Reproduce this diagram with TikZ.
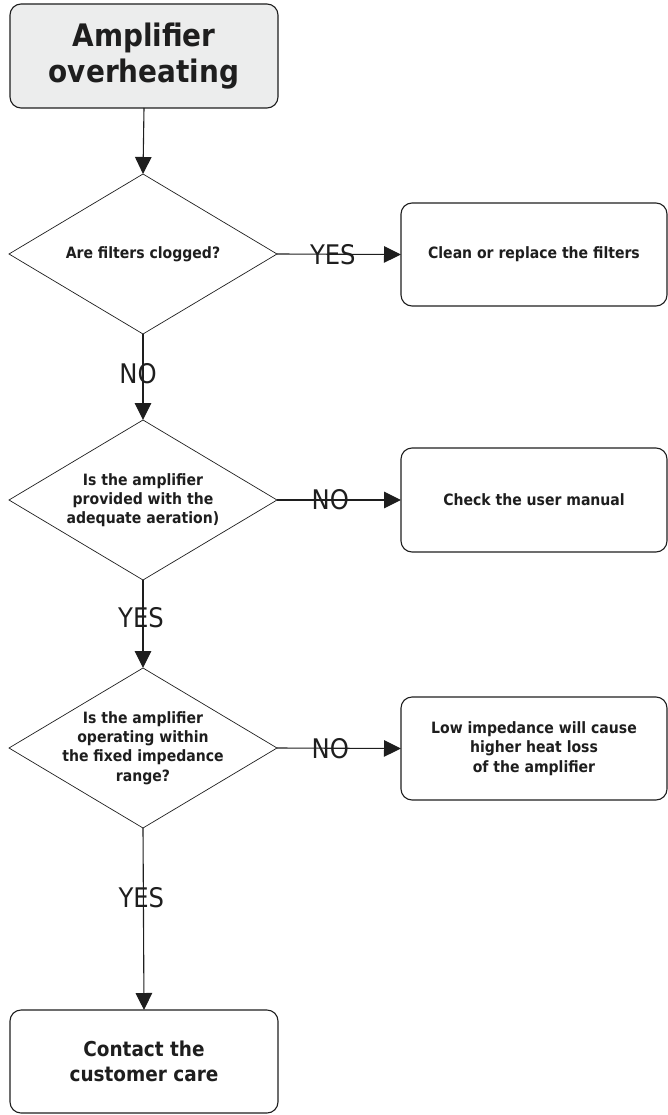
\documentclass[tikz,border=0pt]{standalone}
\usepackage{fontspec}
\setmainfont{DejaVu Sans Condensed}
\usetikzlibrary{shapes.geometric,arrows.meta}
\definecolor{titlefill}{RGB}{236,237,237}
\definecolor{ink}{RGB}{30,30,30}
\begin{document}
\begin{tikzpicture}[x=1pt,y=-1pt,
  box/.style={draw=ink, line width=1.1pt, rounded corners=11pt, minimum width=266pt, minimum height=103pt, inner sep=0pt, outer sep=0pt, align=center, text=ink},
  dec/.style={draw=ink, line width=0.7pt, diamond, minimum width=268pt, minimum height=160pt, inner sep=0pt, outer sep=0pt},
  dtext/.style={align=center, font=\bfseries\fontsize{15.6}{19.2}\selectfont, inner sep=0pt, text=ink},
  btext/.style={font=\bfseries\fontsize{15.6}{19.2}\selectfont},
  lbl/.style={font=\fontsize{27}{27}\selectfont, inner sep=0pt, text=ink},
  arr/.style={draw=ink, line width=1.1pt, -{Triangle[length=17pt,width=16.5pt]}},
]
\useasboundingbox (0,0) rectangle (668,1115);

\node[box, fill=titlefill, minimum width=268pt, minimum height=104pt, font=\bfseries\fontsize{31}{36}\selectfont] (start) at (144,56) {Amplifier\\overheating};

\node[dec] (d1) at (143,254) {};
\node[dtext] (t1) at (d1.center) {Are filters clogged?};
\node[box, btext] (b1) at (534,254.5) {Clean or replace the filters};

\node[dec] (d2) at (143,500) {};
\node[dtext] (t2) at (d2.center) {Is the amplifier\\provided with the\\adequate aeration)};
\node[box, btext, minimum height=104pt] (b2) at (534,500) {Check the user manual};

\node[dec] (d3) at (143,748) {};
\node[dtext] (t3) at (d3.center) {Is the amplifier\\operating within\\the fixed impedance\\range?};
\node[box, btext] (b3) at (534,748.5) {Low impedance will cause\\higher heat loss\\of the amplifier};

\node[box, minimum width=268pt, font=\bfseries\fontsize{20.5}{25}\selectfont] (end) at (144,1061.5) {Contact the\\customer care};

\draw[arr] (start.south) -- (d1.north);
\draw[arr] (d1.east) -- node[lbl, pos=0.45] {YES} (b1.west);
\draw[arr] (d1.south) -- node[lbl, pos=0.465, xshift=-5pt] {NO} (d2.north);
\draw[arr] (d2.east) -- node[lbl, pos=0.43] {NO} (b2.west);
\draw[arr] (d2.south) -- node[lbl, pos=0.43, xshift=-2pt] {YES} (d3.north);
\draw[arr] (d3.east) -- node[lbl, pos=0.43] {NO} (b3.west);
\draw[arr] (d3.south) -- node[lbl, pos=0.385, xshift=-2pt] {YES} (end.north);
\end{tikzpicture}
\end{document}
